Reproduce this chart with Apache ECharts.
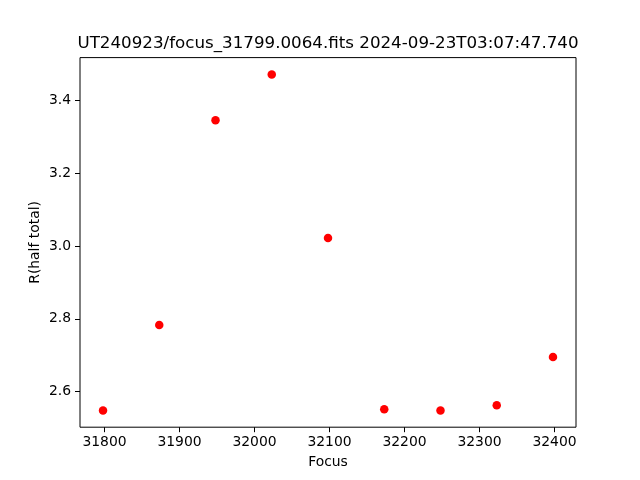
<!DOCTYPE html>
<html>
<head>
<meta charset="utf-8">
<script src="https://cdn.jsdelivr.net/npm/echarts@6/dist/echarts.min.js"></script>
<style>html,body{margin:0;padding:0;background:#fff}#c{width:640px;height:480px}</style>
</head>
<body>
<div id="c"></div>
<script>
const titleText = 'UT240923/focus_31799.0064.fits 2024-09-23T03:07:47.740';
const xLabel = 'Focus';
const yLabel = 'R(half total)';
const focus = [31798, 31873, 31948, 32023, 32098, 32173, 32248, 32323, 32398];
const rHalf = [2.548, 2.783, 3.346, 3.472, 3.022, 2.551, 2.548, 2.562, 2.695];
const xTicks = [31800, 31900, 32000, 32100, 32200, 32300, 32400];
const yTicks = [2.6, 2.8, 3.0, 3.2, 3.4];

const xMin = 31767.3, xMax = 32428.7;
const yMin = 2.5018, yMax = 3.5182;
const font = 'DejaVu Sans';

const chart = echarts.init(document.getElementById('c'), null, {renderer: 'canvas'});
chart.setOption({
  animation: false,
  backgroundColor: '#fff',
  grid: {left: 80, right: 64, top: 57.6, bottom: 52.8, show: true, borderColor: '#000', borderWidth: 1, backgroundColor: 'transparent'},
  xAxis: {
    type: 'value', min: xMin, max: xMax,
    axisLine: {show: false},
    splitLine: {show: false},
    axisTick: {show: true, inside: false, length: 5, lineStyle: {color: '#000', width: 1}, customValues: xTicks},
    axisLabel: {color: '#000', fontFamily: font, fontSize: 13.9, margin: 8, customValues: xTicks, formatter: v => String(v)}
  },
  yAxis: {
    type: 'value', min: yMin, max: yMax,
    axisLine: {show: false},
    splitLine: {show: false},
    axisTick: {show: true, inside: false, length: 5, lineStyle: {color: '#000', width: 1}, customValues: yTicks},
    axisLabel: {color: '#000', fontFamily: font, fontSize: 13.9, margin: 9, customValues: yTicks, formatter: v => v.toFixed(1)}
  },
  series: [{
    type: 'scatter',
    data: focus.map((f, i) => [f, rHalf[i]]),
    symbol: 'circle',
    symbolSize: 8.5,
    itemStyle: {color: '#ff0000', opacity: 1}
  }],
  graphic: [
    {type: 'text', x: 328, y: 43.5, style: {text: titleText, fontFamily: font, fontSize: 16.7, fill: '#000', align: 'center', verticalAlign: 'middle'}},
    {type: 'text', x: 328, y: 462, style: {text: xLabel, fontFamily: font, fontSize: 13.9, fill: '#000', align: 'center', verticalAlign: 'middle'}},
    {type: 'text', x: 35, y: 242.4, rotation: Math.PI / 2, style: {text: yLabel, fontFamily: font, fontSize: 13.9, fill: '#000', align: 'center', verticalAlign: 'middle'}}
  ]
});
</script>
</body>
</html>
